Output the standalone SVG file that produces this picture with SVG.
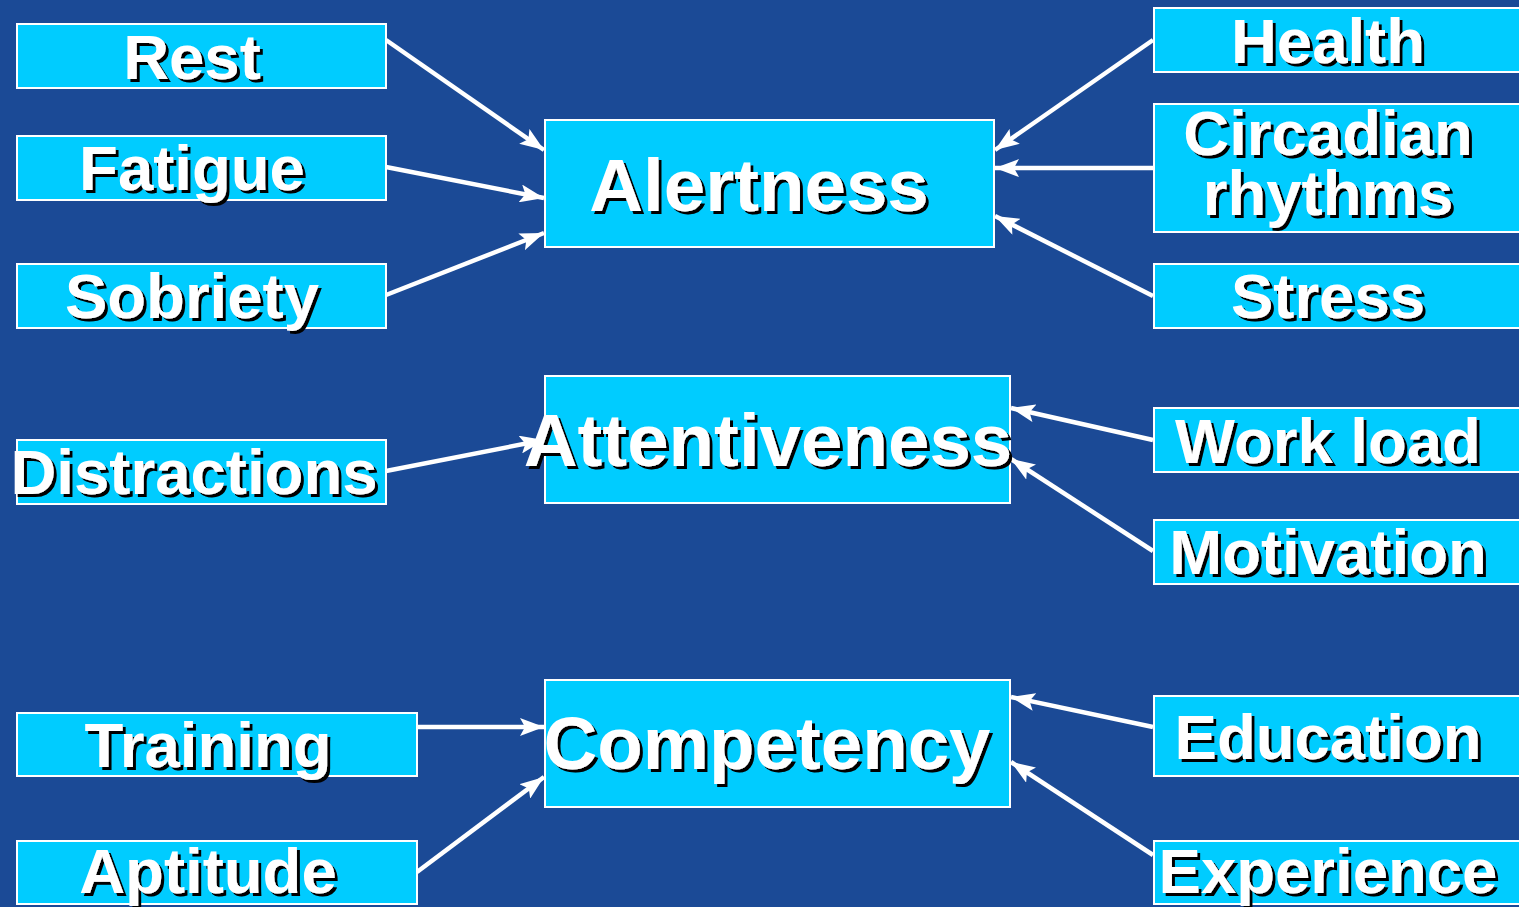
<svg xmlns="http://www.w3.org/2000/svg" width="1519" height="907" viewBox="0 0 1519 907">
<style>
.box{fill:#00CCFF;stroke:#FFFFFF;stroke-width:2}
.t{font-family:"Liberation Sans",Arial,sans-serif;font-weight:bold;fill:#FFFFFF;text-anchor:middle;filter:url(#sh)}
.s{font-size:63.5px}
.b{font-size:74.5px}
.c{stroke:#FFFFFF;stroke-width:4.5;fill:none;marker-end:url(#ah)}
</style>
<defs>
<filter id="sh" x="-10%" y="-20%" width="130%" height="150%">
<feOffset in="SourceAlpha" dx="3" dy="3" result="o"/>
<feMerge><feMergeNode in="o"/><feMergeNode in="SourceGraphic"/></feMerge>
</filter>
<marker id="ah" markerUnits="userSpaceOnUse" markerWidth="26" markerHeight="18" refX="24" refY="9" orient="auto">
<path d="M0,0 L24,9 L0,18 L5,9 z" fill="#FFFFFF"/>
</marker>
</defs>
<rect width="1519" height="907" fill="#1B4A96"/>
<g id="connectors">
<line class="c" x1="386" y1="40" x2="544" y2="150"/>
<line class="c" x1="386" y1="167" x2="544" y2="198"/>
<line class="c" x1="386" y1="295" x2="544" y2="233"/>
<line class="c" x1="1153" y1="40" x2="995" y2="150"/>
<line class="c" x1="1153" y1="168" x2="995" y2="168"/>
<line class="c" x1="1153" y1="296" x2="995" y2="216"/>
<line class="c" x1="386" y1="471" x2="544" y2="440"/>
<line class="c" x1="1153" y1="440" x2="1011" y2="408"/>
<line class="c" x1="1153" y1="551" x2="1011" y2="459"/>
<line class="c" x1="417" y1="727" x2="544" y2="727"/>
<line class="c" x1="417" y1="872" x2="544" y2="777"/>
<line class="c" x1="1153" y1="727" x2="1011" y2="697"/>
<line class="c" x1="1153" y1="855" x2="1011" y2="762"/>
</g>
<g id="rest"><rect class="box" x="17" y="24" width="369" height="64"/><text class="t s" x="192" y="79">Rest</text></g>
<g id="fatigue"><rect class="box" x="17" y="136" width="369" height="64"/><text class="t s" x="192" y="190">Fatigue</text></g>
<g id="sobriety"><rect class="box" x="17" y="264" width="369" height="64"/><text class="t s" x="192" y="318">Sobriety</text></g>
<g id="distractions"><rect class="box" x="17" y="440" width="369" height="64"/><text class="t s" x="194" y="494">Distractions</text></g>
<g id="training"><rect class="box" x="17" y="713" width="400" height="63"/><text class="t s" x="208" y="767">Training</text></g>
<g id="aptitude"><rect class="box" x="17" y="841" width="400" height="63"/><text class="t s" x="208" y="893">Aptitude</text></g>
<g id="health"><rect class="box" x="1154" y="8" width="380" height="64"/><text class="t s" x="1328" y="63">Health</text></g>
<g id="circadian"><rect class="box" x="1154" y="104" width="380" height="128"/><text class="t s" x="1328" y="155">Circadian</text><text class="t s" x="1328" y="215">rhythms</text></g>
<g id="stress"><rect class="box" x="1154" y="264" width="380" height="64"/><text class="t s" x="1328" y="318">Stress</text></g>
<g id="workload"><rect class="box" x="1154" y="408" width="380" height="64"/><text class="t s" x="1328" y="463">Work load</text></g>
<g id="motivation"><rect class="box" x="1154" y="520" width="380" height="64"/><text class="t s" x="1328" y="574">Motivation</text></g>
<g id="education"><rect class="box" x="1154" y="696" width="380" height="80"/><text class="t s" x="1328" y="759">Education</text></g>
<g id="experience"><rect class="box" x="1154" y="841" width="380" height="63"/><text class="t s" x="1328" y="893">Experience</text></g>
<g id="alertness"><rect class="box" x="545" y="120" width="449" height="127"/><text class="t b" x="759" y="211">Alertness</text></g>
<g id="attentiveness"><rect class="box" x="545" y="376" width="465" height="127"/><text class="t b" x="768" y="466">Attentiveness</text></g>
<g id="competency"><rect class="box" x="545" y="680" width="465" height="127"/><text class="t b" x="767" y="769">Competency</text></g>
</svg>
